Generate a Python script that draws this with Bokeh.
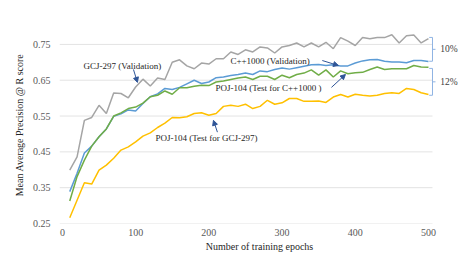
from bokeh.plotting import figure
from bokeh.models import Range1d, FixedTicker, NumeralTickFormatter, Label, Arrow, NormalHead
from bokeh.embed import file_html
from bokeh.resources import INLINE

epochs = [10, 20, 30, 40, 50, 60, 70, 80, 90, 100, 110, 120, 130, 140, 150, 160, 170, 180, 190, 200,
          210, 220, 230, 240, 250, 260, 270, 280, 290, 300, 310, 320, 330, 340, 350, 360, 370, 380, 390, 400,
          410, 420, 430, 440, 450, 460, 470, 480, 490, 500]

gcj_val = [0.399, 0.436, 0.538, 0.546, 0.580, 0.557, 0.614, 0.613, 0.601, 0.631,
           0.653, 0.634, 0.656, 0.652, 0.700, 0.707, 0.690, 0.682, 0.698, 0.695,
           0.710, 0.710, 0.729, 0.722, 0.735, 0.729, 0.743, 0.740, 0.726, 0.743,
           0.747, 0.754, 0.743, 0.754, 0.743, 0.756, 0.738, 0.769, 0.759, 0.747,
           0.769, 0.766, 0.769, 0.769, 0.777, 0.754, 0.774, 0.776, 0.754, 0.766]

cpp_val = [0.339, 0.390, 0.447, 0.466, 0.492, 0.514, 0.549, 0.556, 0.567, 0.564,
           0.585, 0.604, 0.612, 0.627, 0.624, 0.630, 0.640, 0.650, 0.641, 0.645,
           0.657, 0.659, 0.663, 0.666, 0.670, 0.666, 0.676, 0.674, 0.680, 0.684,
           0.681, 0.685, 0.689, 0.693, 0.694, 0.691, 0.693, 0.690, 0.690, 0.698,
           0.704, 0.707, 0.708, 0.703, 0.701, 0.701, 0.699, 0.705, 0.705, 0.702]

poj_cpp = [0.313, 0.381, 0.427, 0.466, 0.492, 0.514, 0.550, 0.559, 0.571, 0.575,
           0.586, 0.604, 0.608, 0.620, 0.611, 0.629, 0.629, 0.633, 0.636, 0.635,
           0.645, 0.648, 0.652, 0.656, 0.659, 0.652, 0.661, 0.661, 0.652, 0.664,
           0.657, 0.666, 0.670, 0.679, 0.664, 0.679, 0.659, 0.676, 0.668, 0.671,
           0.672, 0.680, 0.687, 0.680, 0.682, 0.682, 0.682, 0.691, 0.687, 0.686]

poj_gcj = [0.266, 0.315, 0.364, 0.360, 0.399, 0.413, 0.432, 0.455, 0.464, 0.478,
           0.494, 0.503, 0.518, 0.530, 0.546, 0.545, 0.548, 0.557, 0.559, 0.552,
           0.557, 0.577, 0.580, 0.577, 0.583, 0.571, 0.577, 0.594, 0.583, 0.587,
           0.599, 0.599, 0.591, 0.591, 0.592, 0.588, 0.603, 0.610, 0.603, 0.611,
           0.608, 0.606, 0.608, 0.613, 0.615, 0.613, 0.627, 0.624, 0.615, 0.610]

x_ticks = [0, 100, 200, 300, 400, 500]
y_ticks = [0.25, 0.35, 0.45, 0.55, 0.65, 0.75]

FONT = "Times New Roman"
X_LO, X_HI = -4, 505.5   # horizontal extent of the gridlines (plot area)

p = figure(width=459, height=255, output_backend="svg", toolbar_location=None,
           x_range=Range1d(X_LO, 542.4), y_range=Range1d(0.25, 0.80),
           min_border_left=59, min_border_right=0, min_border_top=26, min_border_bottom=32)
p.outline_line_color = None
p.background_fill_color = "white"
p.border_fill_color = "white"

# horizontal gridlines limited to the plot area
p.segment(x0=[X_LO] * len(y_ticks), y0=y_ticks, x1=[X_HI] * len(y_ticks), y1=y_ticks,
          line_color="#e3e3e3", line_width=1)

p.line(epochs, gcj_val, line_color="#a5a5a5", line_width=1.5)
p.line(epochs, cpp_val, line_color="#5b9bd5", line_width=1.5)
p.line(epochs, poj_cpp, line_color="#70ad47", line_width=1.5)
p.line(epochs, poj_gcj, line_color="#ffc000", line_width=1.5)

p.xaxis.ticker = FixedTicker(ticks=x_ticks)
p.yaxis.ticker = FixedTicker(ticks=y_ticks)
p.yaxis.formatter = NumeralTickFormatter(format="0.00")
for ax in (p.xaxis, p.yaxis):
    ax.axis_line_color = None
    ax.major_tick_line_color = None
    ax.minor_tick_line_color = None
    ax.major_tick_in = 0
    ax.major_tick_out = 0
    ax.minor_tick_in = 0
    ax.minor_tick_out = 0
    ax.major_label_text_font = FONT
    ax.major_label_text_font_size = "10px"
    ax.major_label_text_color = "#595959"
    ax.axis_label_text_font = FONT
    ax.axis_label_text_font_style = "normal"
    ax.axis_label_text_font_size = "10px"
    ax.axis_label_text_color = "#262626"
p.xaxis.major_label_standoff = 5
p.yaxis.major_label_standoff = 9
p.xaxis.axis_label = "Number of training epochs"
p.yaxis.axis_label = "Mean Average Precision @ R score"
p.xaxis.axis_label_standoff = 2
p.yaxis.axis_label_standoff = 5
p.xgrid.grid_line_color = None
p.ygrid.grid_line_color = None

def lab(x, y, t):
    p.add_layout(Label(x=x, y=y, text=t, text_font=FONT, text_font_size="9px",
                       text_color="#262626", text_baseline="middle", text_align="left"))

lab(28.7, 0.689, "GCJ-297 (Validation)")
lab(229.5, 0.705, "C++1000 (Validation)")
lab(209, 0.627, "POJ-104 (Test for C++1000 )")
lab(127, 0.488, "POJ-104 (Test for GCJ-297)")

def arr(x0, y0, x1, y1):
    p.add_layout(Arrow(x_start=x0, y_start=y0, x_end=x1, y_end=y1, line_color="#2f5597", line_width=1,
                       end=NormalHead(size=5, fill_color="#2f5597", line_color="#2f5597")))

arr(97, 0.680, 102.5, 0.644)
arr(355, 0.705, 377, 0.691)
arr(367.5, 0.630, 386.6, 0.666)
arr(211.7, 0.505, 206.3, 0.538)

def seg(x0, y0, x1, y1):
    p.add_layout(Arrow(x_start=x0, y_start=y0, x_end=x1, y_end=y1, line_color="#8fb4e3",
                       line_width=1, end=None))

def bracket(top, bot, text):
    seg(501, top, 505.5, top)
    seg(505.5, top, 505.5, bot)
    seg(501, bot, 505.5, bot)
    mid = (top + bot) / 2
    seg(505.5, mid, 509.6, mid)
    p.add_layout(Label(x=516, y=mid, text=text, text_font=FONT, text_font_size="9.5px",
                       text_color="#404040", text_baseline="middle", text_align="left"))

bracket(0.7695, 0.703, "10%")
bracket(0.683, 0.608, "12%")

open("out.html", "w").write(file_html(p, INLINE))
